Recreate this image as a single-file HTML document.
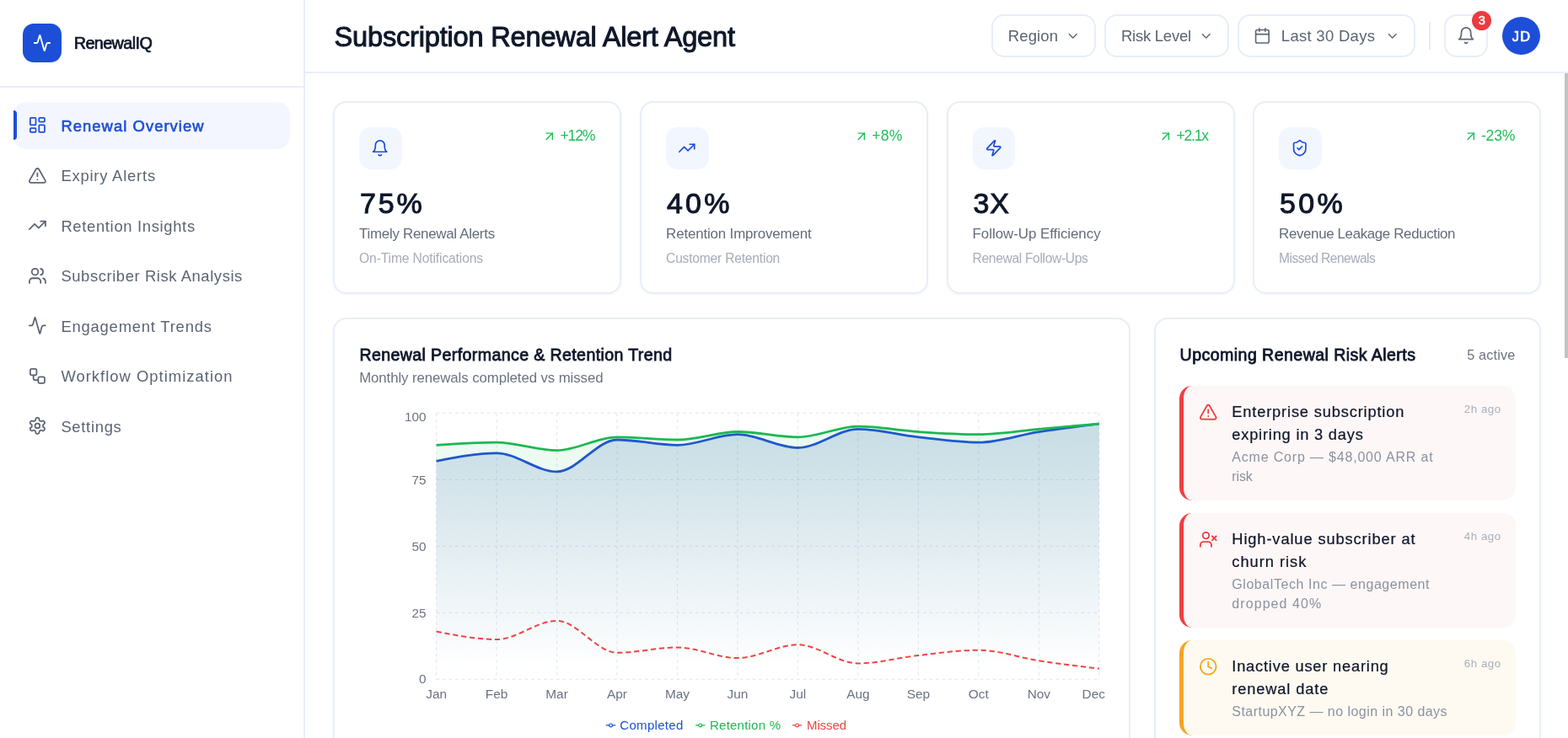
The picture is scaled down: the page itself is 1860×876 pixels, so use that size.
<!DOCTYPE html>
<html lang="en"><head><meta charset="utf-8"><title>Subscription Renewal Alert Agent</title>
<style>
*{box-sizing:border-box;margin:0;padding:0}
html,body{width:1860px;height:876px;overflow:hidden;background:#fff}
body{position:relative;font-family:"Liberation Sans", sans-serif;}
.t{position:absolute;white-space:nowrap;line-height:1;display:block}
.ic{position:absolute;display:block;overflow:visible}
.side{position:absolute;left:0;top:0;width:362px;height:876px;background:#fff;border-right:2px solid #e8eef8}
.logo{position:absolute;left:27px;top:28px;width:45.5px;height:45.5px;border-radius:13px;background:#1d4ed8}
.sideline{position:absolute;left:0;top:102px;width:360px;height:2px;background:#e8eef8}
.navact{position:absolute;left:16px;width:328px;height:56px;border-radius:15px;background:#f3f6fe}
.navbar{position:absolute;left:16px;width:4px;height:35px;border-radius:0 4px 4px 0;background:#1d4ed8}
.top{position:absolute;left:362px;top:0;width:1498px;height:87px;background:#fff;border-bottom:2px solid #e8eef8}
.btn{position:absolute;top:17px;height:51px;border:2px solid #e7edf8;border-radius:15px;background:#fff}
.vdiv{position:absolute;left:1695px;top:26px;width:2px;height:32.5px;background:#e5ebf7}
.badge{position:absolute;left:1746.2px;top:12.8px;width:23px;height:23px;border-radius:50%;background:#ea3b41}
.avatar{position:absolute;left:1782px;top:19.8px;width:45px;height:45px;border-radius:50%;background:#1d4ed8}
.card{position:absolute;background:#fff;border:2px solid #e8eef8;border-radius:16px;box-shadow:0 1px 3px rgba(30,64,175,.05)}
.ibox{position:absolute;width:50.5px;height:50.5px;border-radius:14px;background:#f2f6fe}
.chart{position:absolute;left:0;top:0}
.al{position:absolute;left:1399px;width:398.5px;border-left:5px solid;border-radius:15px}
.sbar{position:absolute;left:1855.5px;top:86.5px;width:4.5px;height:338.5px;background:#c1c2c7}
</style></head>
<body>
<aside class="side">
<div class="logo"></div>
<svg class="ic" style="left:38.80px;top:39.80px" width="22" height="22" viewBox="0 0 24 24" fill="none" stroke="#fff" stroke-width="2" stroke-linecap="round" stroke-linejoin="round"><path d="M22 12h-2.48a2 2 0 0 0-1.93 1.46l-2.35 8.36a.25.25 0 0 1-.48 0L9.24 2.18a.25.25 0 0 0-.48 0l-2.35 8.36A2 2 0 0 1 4.49 12H2"/></svg>
<span class="t" id="t0" style="top:41.77px;font-size:19.8px;color:#0f172a;letter-spacing:-0.595px;left:87.70px;-webkit-text-stroke:0.7px #0f172a;">RenewalIQ</span>
<div class="sideline"></div>
<nav>
<div class="navact" style="top:120.5px"></div><div class="navbar" style="top:131.0px"></div>
<svg class="ic" style="left:32.80px;top:137.10px" width="22.8" height="22.8" viewBox="0 0 24 24" fill="none" stroke="#1d4ed8" stroke-width="1.85" stroke-linecap="round" stroke-linejoin="round"><rect width="7" height="9" x="3" y="3" rx="1"/><rect width="7" height="5" x="14" y="3" rx="1"/><rect width="7" height="9" x="14" y="12" rx="1"/><rect width="7" height="5" x="3" y="16" rx="1"/></svg>
<span class="t" id="t1" style="top:140.53px;font-size:18.4px;color:#1d4ed8;letter-spacing:1.059px;left:72.40px;-webkit-text-stroke:0.6px #1d4ed8;">Renewal Overview</span>
<svg class="ic" style="left:32.80px;top:196.60px" width="22.8" height="22.8" viewBox="0 0 24 24" fill="none" stroke="#5c6473" stroke-width="1.85" stroke-linecap="round" stroke-linejoin="round"><path d="m21.73 18-8-14a2 2 0 0 0-3.48 0l-8 14A2 2 0 0 0 4 21h16a2 2 0 0 0 1.73-3"/><path d="M12 9v4"/><path d="M12 17h.01"/></svg>
<span class="t" id="t2" style="top:200.03px;font-size:18.4px;color:#5c6473;letter-spacing:0.791px;left:72.40px;">Expiry Alerts</span>
<svg class="ic" style="left:32.80px;top:256.10px" width="22.8" height="22.8" viewBox="0 0 24 24" fill="none" stroke="#5c6473" stroke-width="1.85" stroke-linecap="round" stroke-linejoin="round"><polyline points="22 7 13.5 15.5 8.5 10.5 2 17"/><polyline points="16 7 22 7 22 13"/></svg>
<span class="t" id="t3" style="top:259.53px;font-size:18.4px;color:#5c6473;letter-spacing:0.675px;left:72.40px;">Retention Insights</span>
<svg class="ic" style="left:32.80px;top:315.60px" width="22.8" height="22.8" viewBox="0 0 24 24" fill="none" stroke="#5c6473" stroke-width="1.85" stroke-linecap="round" stroke-linejoin="round"><path d="M16 21v-2a4 4 0 0 0-4-4H6a4 4 0 0 0-4 4v2"/><circle cx="9" cy="7" r="4"/><path d="M22 21v-2a4 4 0 0 0-3-3.87"/><path d="M16 3.13a4 4 0 0 1 0 7.75"/></svg>
<span class="t" id="t4" style="top:319.03px;font-size:18.4px;color:#5c6473;letter-spacing:0.589px;left:72.40px;">Subscriber Risk Analysis</span>
<svg class="ic" style="left:32.80px;top:375.10px" width="22.8" height="22.8" viewBox="0 0 24 24" fill="none" stroke="#5c6473" stroke-width="1.85" stroke-linecap="round" stroke-linejoin="round"><path d="M22 12h-2.48a2 2 0 0 0-1.93 1.46l-2.35 8.36a.25.25 0 0 1-.48 0L9.24 2.18a.25.25 0 0 0-.48 0l-2.35 8.36A2 2 0 0 1 4.49 12H2"/></svg>
<span class="t" id="t5" style="top:378.53px;font-size:18.4px;color:#5c6473;letter-spacing:0.805px;left:72.40px;">Engagement Trends</span>
<svg class="ic" style="left:32.80px;top:434.60px" width="22.8" height="22.8" viewBox="0 0 24 24" fill="none" stroke="#5c6473" stroke-width="1.85" stroke-linecap="round" stroke-linejoin="round"><rect width="8" height="8" x="3" y="3" rx="2"/><path d="M7 11v4a2 2 0 0 0 2 2h4"/><rect width="8" height="8" x="13" y="13" rx="2"/></svg>
<span class="t" id="t6" style="top:438.03px;font-size:18.4px;color:#5c6473;letter-spacing:1.025px;left:72.40px;">Workflow Optimization</span>
<svg class="ic" style="left:32.80px;top:494.10px" width="22.8" height="22.8" viewBox="0 0 24 24" fill="none" stroke="#5c6473" stroke-width="1.85" stroke-linecap="round" stroke-linejoin="round"><path d="M12.22 2h-.44a2 2 0 0 0-2 2v.18a2 2 0 0 1-1 1.73l-.43.25a2 2 0 0 1-2 0l-.15-.08a2 2 0 0 0-2.73.73l-.22.38a2 2 0 0 0 .73 2.73l.15.1a2 2 0 0 1 1 1.72v.51a2 2 0 0 1-1 1.74l-.15.09a2 2 0 0 0-.73 2.73l.22.38a2 2 0 0 0 2.73.73l.15-.08a2 2 0 0 1 2 0l.43.25a2 2 0 0 1 1 1.73V20a2 2 0 0 0 2 2h.44a2 2 0 0 0 2-2v-.18a2 2 0 0 1 1-1.73l.43-.25a2 2 0 0 1 2 0l.15.08a2 2 0 0 0 2.73-.73l.22-.39a2 2 0 0 0-.73-2.73l-.15-.08a2 2 0 0 1-1-1.74v-.5a2 2 0 0 1 1-1.74l.15-.09a2 2 0 0 0 .73-2.73l-.22-.38a2 2 0 0 0-2.73-.73l-.15.08a2 2 0 0 1-2 0l-.43-.25a2 2 0 0 1-1-1.73V4a2 2 0 0 0-2-2z"/><circle cx="12" cy="12" r="3"/></svg>
<span class="t" id="t7" style="top:497.53px;font-size:18.4px;color:#5c6473;letter-spacing:0.707px;left:72.40px;">Settings</span>
</nav>
</aside>
<header><div class="top"></div>
<span class="t" id="t8" style="top:27.74px;font-size:32.6px;color:#0f172a;letter-spacing:-0.204px;left:396.60px;-webkit-text-stroke:1.0px #0f172a;">Subscription Renewal Alert Agent</span>
<div class="btn" style="left:1176px;width:124px"></div>
<span class="t" id="t9" style="top:34.25px;font-size:18.5px;color:#5c6473;letter-spacing:0.152px;left:1195.70px;">Region</span>
<svg class="ic" style="left:1264.25px;top:33.85px" width="17.5" height="17.5" viewBox="0 0 24 24" fill="none" stroke="#5c6473" stroke-width="1.85" stroke-linecap="round" stroke-linejoin="round"><path d="m6 9 6 6 6-6"/></svg>
<div class="btn" style="left:1310px;width:148px"></div>
<span class="t" id="t10" style="top:34.25px;font-size:18.5px;color:#5c6473;letter-spacing:-0.238px;left:1329.90px;">Risk Level</span>
<svg class="ic" style="left:1421.75px;top:33.85px" width="17.5" height="17.5" viewBox="0 0 24 24" fill="none" stroke="#5c6473" stroke-width="1.85" stroke-linecap="round" stroke-linejoin="round"><path d="m6 9 6 6 6-6"/></svg>
<div class="btn" style="left:1468px;width:211px"></div>
<svg class="ic" style="left:1486.60px;top:31.80px" width="20.8" height="20.8" viewBox="0 0 24 24" fill="none" stroke="#5c6473" stroke-width="1.85" stroke-linecap="round" stroke-linejoin="round"><path d="M8 2v4"/><path d="M16 2v4"/><rect width="18" height="18" x="3" y="4" rx="2"/><path d="M3 10h18"/></svg>
<span class="t" id="t11" style="top:34.25px;font-size:18.5px;color:#5c6473;letter-spacing:0.292px;left:1519.80px;">Last 30 Days</span>
<svg class="ic" style="left:1642.65px;top:33.85px" width="17.5" height="17.5" viewBox="0 0 24 24" fill="none" stroke="#5c6473" stroke-width="1.85" stroke-linecap="round" stroke-linejoin="round"><path d="m6 9 6 6 6-6"/></svg>
<div class="vdiv"></div>
<div class="btn" style="left:1713px;width:52px"></div>
<svg class="ic" style="left:1728.10px;top:30.70px" width="22.2" height="22.2" viewBox="0 0 24 24" fill="none" stroke="#5c6473" stroke-width="1.85" stroke-linecap="round" stroke-linejoin="round"><path d="M6 8a6 6 0 0 1 12 0c0 7 3 9 3 9H3s3-2 3-9"/><path d="M10.3 21a1.94 1.94 0 0 0 3.4 0"/></svg>
<div class="badge"></div>
<span class="t" id="t12" style="top:17.48px;font-size:14.6px;color:#fff;left:1757.70px;transform:translateX(-50%);-webkit-text-stroke:0.55px #fff;">3</span>
<div class="avatar"></div>
<span class="t" id="t13" style="top:34.69px;font-size:16.4px;color:#fff;letter-spacing:1.153px;left:1804.98px;transform:translateX(-50%);-webkit-text-stroke:0.7px #fff;">JD</span>
</header>
<main>
<section class="card" style="left:395px;top:120px;width:342px;height:229px"></section>
<div class="ibox" style="left:426px;top:150.5px"></div>
<svg class="ic" style="left:440.45px;top:164.85px" width="21.5" height="21.5" viewBox="0 0 24 24" fill="none" stroke="#1d4ed8" stroke-width="1.9" stroke-linecap="round" stroke-linejoin="round"><path d="M6 8a6 6 0 0 1 12 0c0 7 3 9 3 9H3s3-2 3-9"/><path d="M10.3 21a1.94 1.94 0 0 0 3.4 0"/></svg>
<span class="t" id="t14" style="top:152.59px;font-size:17.6px;color:#20bf5a;letter-spacing:-1.167px;right:1154.67px;">+12%</span>
<svg class="ic" style="left:643.15px;top:152.85px" width="17.5" height="17.5" viewBox="0 0 24 24" fill="none" stroke="#20bf5a" stroke-width="2" stroke-linecap="round" stroke-linejoin="round"><path d="M7 7h10v10"/><path d="M7 17 17 7"/></svg>
<span class="t" id="t15" style="top:224.48px;font-size:34.0px;color:#0f172a;letter-spacing:2.869px;left:427.00px;-webkit-text-stroke:1.0px #0f172a;">75%</span>
<span class="t" id="t16" style="top:269.97px;font-size:16.9px;color:#636b79;letter-spacing:-0.273px;left:426.10px;">Timely Renewal Alerts</span>
<span class="t" id="t17" style="top:299.25px;font-size:15.6px;color:#a6acb8;letter-spacing:-0.117px;left:426.10px;">On-Time Notifications</span>
<section class="card" style="left:759px;top:120px;width:342px;height:229px"></section>
<div class="ibox" style="left:790px;top:150.5px"></div>
<svg class="ic" style="left:804.45px;top:164.85px" width="21.5" height="21.5" viewBox="0 0 24 24" fill="none" stroke="#1d4ed8" stroke-width="1.9" stroke-linecap="round" stroke-linejoin="round"><polyline points="22 7 13.5 15.5 8.5 10.5 2 17"/><polyline points="16 7 22 7 22 13"/></svg>
<span class="t" id="t18" style="top:152.59px;font-size:17.6px;color:#20bf5a;letter-spacing:0.248px;right:789.25px;">+8%</span>
<svg class="ic" style="left:1012.95px;top:152.85px" width="17.5" height="17.5" viewBox="0 0 24 24" fill="none" stroke="#20bf5a" stroke-width="2" stroke-linecap="round" stroke-linejoin="round"><path d="M7 7h10v10"/><path d="M7 17 17 7"/></svg>
<span class="t" id="t19" style="top:224.48px;font-size:34.0px;color:#0f172a;letter-spacing:3.169px;left:791.00px;-webkit-text-stroke:1.0px #0f172a;">40%</span>
<span class="t" id="t20" style="top:269.97px;font-size:16.9px;color:#636b79;letter-spacing:-0.148px;left:790.10px;">Retention Improvement</span>
<span class="t" id="t21" style="top:299.25px;font-size:15.6px;color:#a6acb8;letter-spacing:-0.205px;left:790.10px;">Customer Retention</span>
<section class="card" style="left:1122.5px;top:120px;width:342px;height:229px"></section>
<div class="ibox" style="left:1153.5px;top:150.5px"></div>
<svg class="ic" style="left:1167.95px;top:164.85px" width="21.5" height="21.5" viewBox="0 0 24 24" fill="none" stroke="#1d4ed8" stroke-width="1.9" stroke-linecap="round" stroke-linejoin="round"><path d="M4 14a1 1 0 0 1-.78-1.63l9.9-10.2a.5.5 0 0 1 .86.46l-1.92 6.02A1 1 0 0 0 13 10h7a1 1 0 0 1 .78 1.63l-9.9 10.2a.5.5 0 0 1-.86-.46l1.92-6.02A1 1 0 0 0 11 14z"/></svg>
<span class="t" id="t22" style="top:152.59px;font-size:17.6px;color:#20bf5a;letter-spacing:-1.258px;right:427.26px;">+2.1x</span>
<svg class="ic" style="left:1374.15px;top:152.85px" width="17.5" height="17.5" viewBox="0 0 24 24" fill="none" stroke="#20bf5a" stroke-width="2" stroke-linecap="round" stroke-linejoin="round"><path d="M7 7h10v10"/><path d="M7 17 17 7"/></svg>
<span class="t" id="t23" style="top:224.48px;font-size:34.0px;color:#0f172a;letter-spacing:0.906px;left:1154.50px;-webkit-text-stroke:1.0px #0f172a;">3X</span>
<span class="t" id="t24" style="top:269.97px;font-size:16.9px;color:#636b79;letter-spacing:-0.037px;left:1153.60px;">Follow-Up Efficiency</span>
<span class="t" id="t25" style="top:299.25px;font-size:15.6px;color:#a6acb8;letter-spacing:-0.341px;left:1153.60px;">Renewal Follow-Ups</span>
<section class="card" style="left:1486px;top:120px;width:342px;height:229px"></section>
<div class="ibox" style="left:1517px;top:150.5px"></div>
<svg class="ic" style="left:1531.45px;top:164.85px" width="21.5" height="21.5" viewBox="0 0 24 24" fill="none" stroke="#1d4ed8" stroke-width="1.9" stroke-linecap="round" stroke-linejoin="round"><path d="M20 13c0 5-3.5 7.5-7.66 8.95a1 1 0 0 1-.67-.01C7.5 20.5 4 18 4 13V6a1 1 0 0 1 1-1c2 0 4.5-1.2 6.24-2.72a1.17 1.17 0 0 1 1.52 0C14.51 3.81 17 5 19 5a1 1 0 0 1 1 1z"/><path d="m9 12 2 2 4-4"/></svg>
<span class="t" id="t26" style="top:152.59px;font-size:17.6px;color:#20bf5a;letter-spacing:-0.159px;right:62.66px;">-23%</span>
<svg class="ic" style="left:1735.55px;top:152.85px" width="17.5" height="17.5" viewBox="0 0 24 24" fill="none" stroke="#20bf5a" stroke-width="2" stroke-linecap="round" stroke-linejoin="round"><path d="M7 7h10v10"/><path d="M7 17 17 7"/></svg>
<span class="t" id="t27" style="top:224.48px;font-size:34.0px;color:#0f172a;letter-spacing:3.369px;left:1518.00px;-webkit-text-stroke:1.0px #0f172a;">50%</span>
<span class="t" id="t28" style="top:269.97px;font-size:16.9px;color:#636b79;letter-spacing:-0.353px;left:1517.10px;">Revenue Leakage Reduction</span>
<span class="t" id="t29" style="top:299.25px;font-size:15.6px;color:#a6acb8;letter-spacing:-0.536px;left:1517.10px;">Missed Renewals</span>
<section class="card" style="left:395px;top:377px;width:946px;height:540px"></section>
<span class="t" id="t30" style="top:411.63px;font-size:19.6px;color:#0f172a;letter-spacing:0.377px;left:426.40px;-webkit-text-stroke:0.8px #0f172a;">Renewal Performance &amp; Retention Trend</span>
<span class="t" id="t31" style="top:441.06px;font-size:16.8px;color:#6b7280;letter-spacing:-0.075px;left:426.20px;">Monthly renewals completed vs missed</span>
<svg class="chart" width="1860" height="876" viewBox="0 0 1860 876"><defs><linearGradient id="gc" x1="0" y1="0" x2="0" y2="1"><stop offset="5%" stop-color="#1d46b4" stop-opacity="0.165"/><stop offset="95%" stop-color="#1d46b4" stop-opacity="0"/></linearGradient><linearGradient id="gr" x1="0" y1="0" x2="0" y2="1"><stop offset="5%" stop-color="#22c55e" stop-opacity="0.09"/><stop offset="95%" stop-color="#22c55e" stop-opacity="0"/></linearGradient></defs><g stroke="#e5e9f6" stroke-width="1.25" stroke-dasharray="3.75 3.75" fill="none"><line x1="517.6" y1="806.40" x2="1303.8" y2="806.40"/><line x1="517.6" y1="727.40" x2="1303.8" y2="727.40"/><line x1="517.6" y1="648.40" x2="1303.8" y2="648.40"/><line x1="517.6" y1="569.40" x2="1303.8" y2="569.40"/><line x1="517.6" y1="490.40" x2="1303.8" y2="490.40"/><line x1="517.60" y1="490.4" x2="517.60" y2="806.4"/><line x1="589.07" y1="490.4" x2="589.07" y2="806.4"/><line x1="660.55" y1="490.4" x2="660.55" y2="806.4"/><line x1="732.02" y1="490.4" x2="732.02" y2="806.4"/><line x1="803.49" y1="490.4" x2="803.49" y2="806.4"/><line x1="874.96" y1="490.4" x2="874.96" y2="806.4"/><line x1="946.44" y1="490.4" x2="946.44" y2="806.4"/><line x1="1017.91" y1="490.4" x2="1017.91" y2="806.4"/><line x1="1089.38" y1="490.4" x2="1089.38" y2="806.4"/><line x1="1160.85" y1="490.4" x2="1160.85" y2="806.4"/><line x1="1232.33" y1="490.4" x2="1232.33" y2="806.4"/><line x1="1303.80" y1="490.4" x2="1303.80" y2="806.4"/></g><path d="M517.60,547.28C541.42,542.54,565.25,537.80,589.07,537.80C612.90,537.80,636.72,559.92,660.55,559.92C684.37,559.92,708.19,522.00,732.02,522.00C755.84,522.00,779.67,528.32,803.49,528.32C827.32,528.32,851.14,515.68,874.96,515.68C898.79,515.68,922.61,531.48,946.44,531.48C970.26,531.48,994.08,509.36,1017.91,509.36C1041.73,509.36,1065.56,516.21,1089.38,518.84C1113.21,521.47,1137.03,525.16,1160.85,525.16C1184.68,525.16,1208.50,516.21,1232.33,512.52C1256.15,508.83,1279.98,505.94,1303.80,503.04L1303.8,806.4L517.6,806.4Z" fill="url(#gc)"/><path d="M517.60,547.28C541.42,542.54,565.25,537.80,589.07,537.80C612.90,537.80,636.72,559.92,660.55,559.92C684.37,559.92,708.19,522.00,732.02,522.00C755.84,522.00,779.67,528.32,803.49,528.32C827.32,528.32,851.14,515.68,874.96,515.68C898.79,515.68,922.61,531.48,946.44,531.48C970.26,531.48,994.08,509.36,1017.91,509.36C1041.73,509.36,1065.56,516.21,1089.38,518.84C1113.21,521.47,1137.03,525.16,1160.85,525.16C1184.68,525.16,1208.50,516.21,1232.33,512.52C1256.15,508.83,1279.98,505.94,1303.80,503.04" fill="none" stroke="#1d4ed8" stroke-width="2.8"/><path d="M517.60,528.32C541.42,526.74,565.25,525.16,589.07,525.16C612.90,525.16,636.72,534.64,660.55,534.64C684.37,534.64,708.19,518.84,732.02,518.84C755.84,518.84,779.67,522.00,803.49,522.00C827.32,522.00,851.14,512.52,874.96,512.52C898.79,512.52,922.61,518.84,946.44,518.84C970.26,518.84,994.08,506.20,1017.91,506.20C1041.73,506.20,1065.56,510.94,1089.38,512.52C1113.21,514.10,1137.03,515.68,1160.85,515.68C1184.68,515.68,1208.50,511.47,1232.33,509.36C1256.15,507.25,1279.98,505.15,1303.80,503.04L1303.8,806.4L517.6,806.4Z" fill="url(#gr)"/><path d="M517.60,528.32C541.42,526.74,565.25,525.16,589.07,525.16C612.90,525.16,636.72,534.64,660.55,534.64C684.37,534.64,708.19,518.84,732.02,518.84C755.84,518.84,779.67,522.00,803.49,522.00C827.32,522.00,851.14,512.52,874.96,512.52C898.79,512.52,922.61,518.84,946.44,518.84C970.26,518.84,994.08,506.20,1017.91,506.20C1041.73,506.20,1065.56,510.94,1089.38,512.52C1113.21,514.10,1137.03,515.68,1160.85,515.68C1184.68,515.68,1208.50,511.47,1232.33,509.36C1256.15,507.25,1279.98,505.15,1303.80,503.04" fill="none" stroke="#1cb853" stroke-width="2.8"/><path d="M517.60,749.52C541.42,754.26,565.25,759.00,589.07,759.00C612.90,759.00,636.72,736.88,660.55,736.88C684.37,736.88,708.19,774.80,732.02,774.80C755.84,774.80,779.67,768.48,803.49,768.48C827.32,768.48,851.14,781.12,874.96,781.12C898.79,781.12,922.61,765.32,946.44,765.32C970.26,765.32,994.08,787.44,1017.91,787.44C1041.73,787.44,1065.56,780.59,1089.38,777.96C1113.21,775.33,1137.03,771.64,1160.85,771.64C1184.68,771.64,1208.50,780.59,1232.33,784.28C1256.15,787.97,1279.98,790.86,1303.80,793.76" fill="none" stroke="#ef4444" stroke-width="2" stroke-dasharray="6.25 3.75"/><path transform="translate(718.8,855.1999999999999) scale(0.35625)" fill="none" stroke="#1d4ed8" stroke-width="3.4" d="M0,16h10.667A5.333,5.333,0,1,1,21.333,16H32M21.333,16A5.333,5.333,0,1,1,10.667,16"/><path transform="translate(825,855.1999999999999) scale(0.35625)" fill="none" stroke="#1cb853" stroke-width="3.4" d="M0,16h10.667A5.333,5.333,0,1,1,21.333,16H32M21.333,16A5.333,5.333,0,1,1,10.667,16"/><path transform="translate(939.8,855.1999999999999) scale(0.35625)" fill="none" stroke="#ef4444" stroke-width="3.4" d="M0,16h10.667A5.333,5.333,0,1,1,21.333,16H32M21.333,16A5.333,5.333,0,1,1,10.667,16"/></svg>
<span class="t" id="t32" style="top:486.70px;font-size:15.3px;color:#6b7280;right:1354.50px;">100</span>
<span class="t" id="t33" style="top:561.70px;font-size:15.3px;color:#6b7280;right:1354.50px;">75</span>
<span class="t" id="t34" style="top:640.50px;font-size:15.3px;color:#6b7280;right:1354.50px;">50</span>
<span class="t" id="t35" style="top:719.50px;font-size:15.3px;color:#6b7280;right:1354.50px;">25</span>
<span class="t" id="t36" style="top:798.40px;font-size:15.3px;color:#6b7280;right:1354.50px;">0</span>
<span class="t" id="t37" style="top:816.02px;font-size:15.4px;color:#6b7280;left:517.60px;transform:translateX(-50%);">Jan</span>
<span class="t" id="t38" style="top:816.02px;font-size:15.4px;color:#6b7280;left:589.07px;transform:translateX(-50%);">Feb</span>
<span class="t" id="t39" style="top:816.02px;font-size:15.4px;color:#6b7280;left:660.55px;transform:translateX(-50%);">Mar</span>
<span class="t" id="t40" style="top:816.02px;font-size:15.4px;color:#6b7280;left:732.02px;transform:translateX(-50%);">Apr</span>
<span class="t" id="t41" style="top:816.02px;font-size:15.4px;color:#6b7280;left:803.49px;transform:translateX(-50%);">May</span>
<span class="t" id="t42" style="top:816.02px;font-size:15.4px;color:#6b7280;left:874.96px;transform:translateX(-50%);">Jun</span>
<span class="t" id="t43" style="top:816.02px;font-size:15.4px;color:#6b7280;left:946.44px;transform:translateX(-50%);">Jul</span>
<span class="t" id="t44" style="top:816.02px;font-size:15.4px;color:#6b7280;left:1017.91px;transform:translateX(-50%);">Aug</span>
<span class="t" id="t45" style="top:816.02px;font-size:15.4px;color:#6b7280;left:1089.38px;transform:translateX(-50%);">Sep</span>
<span class="t" id="t46" style="top:816.02px;font-size:15.4px;color:#6b7280;left:1160.85px;transform:translateX(-50%);">Oct</span>
<span class="t" id="t47" style="top:816.02px;font-size:15.4px;color:#6b7280;left:1232.33px;transform:translateX(-50%);">Nov</span>
<span class="t" id="t48" style="top:816.02px;font-size:15.4px;color:#6b7280;left:1297.30px;transform:translateX(-50%);">Dec</span>
<span class="t" id="t49" style="top:853.35px;font-size:15px;color:#1d4ed8;letter-spacing:0.307px;left:735.30px;">Completed</span>
<span class="t" id="t50" style="top:853.35px;font-size:15px;color:#1cb853;letter-spacing:0.228px;left:842.00px;">Retention %</span>
<span class="t" id="t51" style="top:853.35px;font-size:15px;color:#ef4444;letter-spacing:-0.103px;left:957.00px;">Missed</span>
<section class="card" style="left:1369px;top:377px;width:459px;height:700px"></section>
<span class="t" id="t52" style="top:411.63px;font-size:19.6px;color:#0f172a;letter-spacing:0.426px;left:1399.60px;-webkit-text-stroke:0.8px #0f172a;">Upcoming Renewal Risk Alerts</span>
<span class="t" id="t53" style="top:413.15px;font-size:16.2px;color:#6b7280;letter-spacing:0.186px;right:62.51px;">5 active</span>
<div class="al" style="top:458px;height:136px;background:#fef7f7;border-left-color:#ef4044"></div>
<svg class="ic" style="left:1421.95px;top:478.05px" width="22.5" height="22.5" viewBox="0 0 24 24" fill="none" stroke="#ef4044" stroke-width="2" stroke-linecap="round" stroke-linejoin="round"><path d="m21.73 18-8-14a2 2 0 0 0-3.48 0l-8 14A2 2 0 0 0 4 21h16a2 2 0 0 0 1.73-3"/><path d="M12 9v4"/><path d="M12 17h.01"/></svg>
<span class="t" id="t54" style="top:480.41px;font-size:18.3px;color:#0f172a;letter-spacing:0.825px;left:1461.30px;-webkit-text-stroke:0.22px #0f172a;">Enterprise subscription</span>
<span class="t" id="t55" style="top:507.21px;font-size:18.3px;color:#0f172a;letter-spacing:0.778px;left:1461.30px;-webkit-text-stroke:0.22px #0f172a;">expiring in 3 days</span>
<span class="t" id="t56" style="top:535.12px;font-size:16.0px;color:#8b929f;letter-spacing:0.816px;left:1461.30px;">Acme Corp — $48,000 ARR at</span>
<span class="t" id="t57" style="top:557.72px;font-size:16.0px;color:#8b929f;letter-spacing:-0.130px;left:1461.30px;">risk</span>
<span class="t" id="t58" style="top:478.76px;font-size:13.3px;color:#a9afba;letter-spacing:0.566px;right:79.23px;">2h ago</span>
<div class="al" style="top:609px;height:136px;background:#fef7f7;border-left-color:#ef4044"></div>
<svg class="ic" style="left:1421.95px;top:629.05px" width="22.5" height="22.5" viewBox="0 0 24 24" fill="none" stroke="#ef4044" stroke-width="2" stroke-linecap="round" stroke-linejoin="round"><path d="M16 21v-2a4 4 0 0 0-4-4H6a4 4 0 0 0-4 4v2"/><circle cx="9" cy="7" r="4"/><line x1="17" x2="22" y1="8" y2="13"/><line x1="22" x2="17" y1="8" y2="13"/></svg>
<span class="t" id="t59" style="top:631.41px;font-size:18.3px;color:#0f172a;letter-spacing:0.877px;left:1461.30px;-webkit-text-stroke:0.22px #0f172a;">High-value subscriber at</span>
<span class="t" id="t60" style="top:658.21px;font-size:18.3px;color:#0f172a;letter-spacing:0.972px;left:1461.30px;-webkit-text-stroke:0.22px #0f172a;">churn risk</span>
<span class="t" id="t61" style="top:686.12px;font-size:16.0px;color:#8b929f;letter-spacing:0.558px;left:1461.30px;">GlobalTech Inc — engagement</span>
<span class="t" id="t62" style="top:708.72px;font-size:16.0px;color:#8b929f;letter-spacing:1.081px;left:1461.30px;">dropped 40%</span>
<span class="t" id="t63" style="top:629.76px;font-size:13.3px;color:#a9afba;letter-spacing:0.566px;right:79.23px;">4h ago</span>
<div class="al" style="top:760px;height:113.3px;background:#fefaf2;border-left-color:#f5a524"></div>
<svg class="ic" style="left:1421.95px;top:780.05px" width="22.5" height="22.5" viewBox="0 0 24 24" fill="none" stroke="#f5a524" stroke-width="2" stroke-linecap="round" stroke-linejoin="round"><circle cx="12" cy="12" r="10"/><polyline points="12 6 12 12 16 14"/></svg>
<span class="t" id="t64" style="top:782.41px;font-size:18.3px;color:#0f172a;letter-spacing:0.789px;left:1461.30px;-webkit-text-stroke:0.22px #0f172a;">Inactive user nearing</span>
<span class="t" id="t65" style="top:809.21px;font-size:18.3px;color:#0f172a;letter-spacing:0.847px;left:1461.30px;-webkit-text-stroke:0.22px #0f172a;">renewal date</span>
<span class="t" id="t66" style="top:837.12px;font-size:16.0px;color:#8b929f;letter-spacing:0.460px;left:1461.30px;">StartupXYZ — no login in 30 days</span>
<span class="t" id="t67" style="top:780.76px;font-size:13.3px;color:#a9afba;letter-spacing:0.566px;right:79.23px;">6h ago</span>
</main>
<div class="sbar"></div>
</body></html>
